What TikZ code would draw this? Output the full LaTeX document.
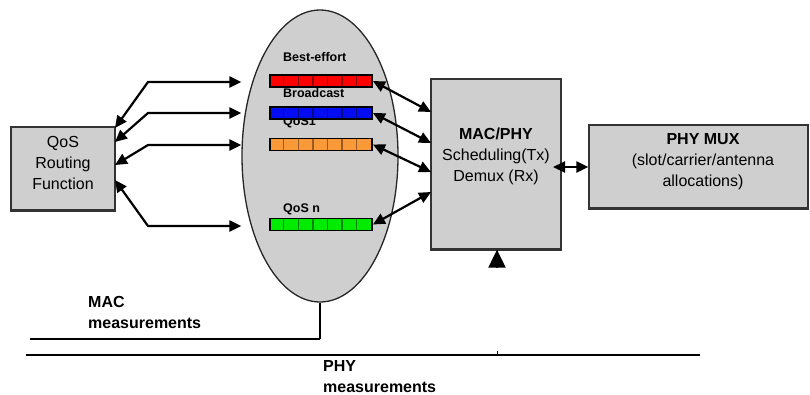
\documentclass[tikz,border=0pt]{standalone}
\usepackage{fontspec}
\setmainfont{Liberation Sans}
\usepackage{xcolor}
\usetikzlibrary{arrows.meta, positioning, shapes.geometric, calc}
\definecolor{boxgray}{rgb}{0.81, 0.81, 0.81}
\definecolor{qred}{rgb}{1.0, 0.0, 0.0}
\definecolor{qblue}{rgb}{0.0, 0.05, 0.95}
\definecolor{qorange}{rgb}{0.98, 0.6, 0.22}
\definecolor{qgreen}{rgb}{0.0, 0.92, 0.0}
% six darker cell dividers inside a queue bar
\newcommand{\qcells}[2]{%
  \foreach \k in {1,...,6}{\draw[#2, line width=1.3pt] ($(#1.north west)+(\k*14.6,1.6)$) -- ($(#1.south west)+(\k*14.6,-1.6)$);}}

\begin{document}
\begin{tikzpicture}[x=1pt, y=-1pt,
		blk/.style={draw=black!80, line width=1.3pt, fill=boxgray, inner sep=0pt},
		txt/.style={align=center, inner sep=0pt, font=\fontsize{16}{21}\selectfont},
		queue/.style={draw=black, line width=1.8pt, minimum width=102pt, minimum height=12pt, inner sep=0pt},
		qlbl/.style={anchor=west, inner sep=0pt, font=\bfseries\fontsize{12.5}{14}\selectfont},
		meas/.style={anchor=north west, align=left, inner sep=0pt, font=\bfseries\fontsize{16}{21}\selectfont},
		link/.style={line width=2.2pt, {Triangle[length=12pt,width=11pt]}-{Triangle[length=12pt,width=11pt]}},
		bus/.style={line width=2.6pt}
	]
	\useasboundingbox (0,0) rectangle (810,394);

	% blocks
	\node[blk, minimum width=104pt, minimum height=83pt] (qos) at (63,168.5) {};
	\node[txt] (qostxt) at ($(qos.center)+(0,-6)$) {QoS\\Routing\\Function};
	\node[ellipse, draw=black!85, line width=1.3pt, fill=boxgray, minimum width=156pt, minimum height=292pt, inner sep=0pt] (pool) at (320,156) {};
	\node[blk, minimum width=130pt, minimum height=170pt] (sched) at (496,164) {};
	\node[txt] (schedtxt) at (496,156) {\textbf{MAC/PHY}\\Scheduling(Tx)\\Demux (Rx)};
	\node[blk, minimum width=219pt, minimum height=83pt] (mux) at (698.5,166.5) {};
	\node[txt] (muxtxt) at (703,162) {\textbf{PHY MUX}\\(slot/carrier/antenna\\allocations)};
	\foreach \b in {qos, sched, mux}
		\draw[line width=2.6pt, black!80] (\b.south west) -- (\b.south east);

	% queues
	\node[qlbl] (lbe) at (283,57) {Best-effort};
	\node[qlbl] (lbc) at (283,93.5) {Broadcast};
	\node[qlbl] (lq1) at (283,122) {QoS1};
	\node[qlbl] (lqn) at (283,209) {QoS n};
	\node[queue, fill=qred] (qbe) at (321,81) {};
	\node[queue, fill=qblue] (qbc) at (321,113) {};
	\node[queue, fill=qorange] (qq1) at (321,144.5) {};
	\node[queue, fill=qgreen] (qqn) at (321,224.5) {};
	\qcells{qbe}{qred!55!black}
	\qcells{qbc}{qblue!55!black}
	\qcells{qq1}{qorange!60!black}
	\qcells{qqn}{qgreen!55!black}

	% routing links
	\coordinate (ra) at (115,128);
	\coordinate (rb) at (115,142);
	\coordinate (rc) at (115,165);
	\coordinate (rd) at (115,180);
	\coordinate (ka) at (148,82);
	\coordinate (kb) at (148,113);
	\coordinate (kc) at (148,145);
	\coordinate (kd) at (148,226);
	\draw[link] (ra) -- (ka) -- (ka -| pool.west);
	\draw[link] (rb) -- (kb) -- (kb -| pool.west);
	\draw[link] (rc) -- (kc) -- (kc -| pool.west);
	\draw[link] (rd) -- (kd) -- (kd -| pool.west);

	% scheduler links
	\coordinate (sa) at (431,112);
	\coordinate (sb) at (431,143);
	\coordinate (sc) at (431,172);
	\coordinate (sd) at (431,192);
	\draw[link] (qbe.east) -- (sa);
	\draw[link] (qbc.east) -- (sb);
	\draw[link] (qq1.east) -- (sc);
	\draw[link] (qqn.east) -- (sd);
	\coordinate (sm) at (553,167);
	\draw[link] (sm) -- (mux.west |- sm);
	\coordinate (upin) at (497,268);
	\draw[line width=2pt, -{Triangle[length=18pt,width=17pt]}] (upin) -- (sched.south -| upin);

	% measurement buses
	\coordinate (macL) at (30,339);
	\coordinate (phyL) at (26,355);
	\coordinate (phyR) at (700,355);
	\draw[line width=1.4pt] (pool.south) -- (pool.south |- macL);
	\draw[bus] (pool.south |- macL) -- (macL);
	\draw[bus] (phyL) -- (phyR);
	\coordinate (tick) at (497,351);
	\draw[line width=1pt] (tick) -- (tick |- phyL);
	\node[meas] (macm) at (88,296) {MAC\\measurements};
	\node[meas] (phym) at (323,360) {PHY\\measurements};
\end{tikzpicture}
\end{document}
